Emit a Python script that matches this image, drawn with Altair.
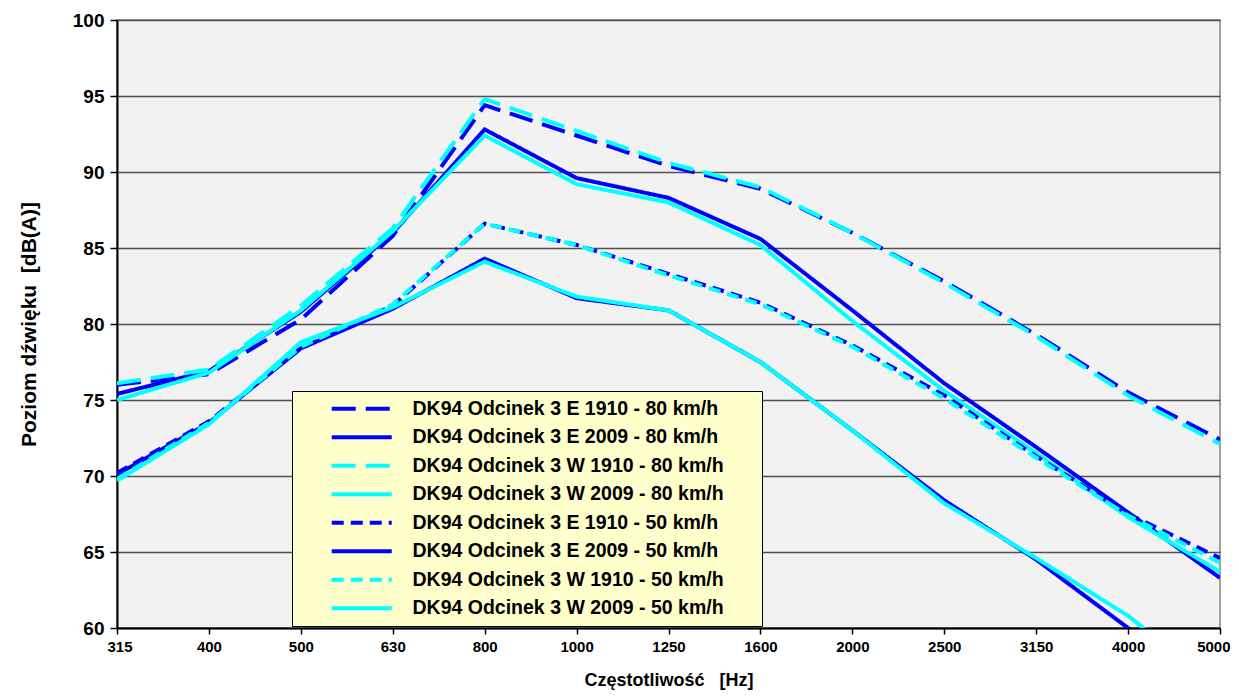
import altair as alt
import pandas as pd

freqs = ["315", "400", "500", "630", "800", "1000", "1250", "1600", "2000", "2500", "3150", "4000", "5000"]

series_names = [
    "DK94 Odcinek 3 E 1910 - 80 km/h",
    "DK94 Odcinek 3 E 2009 - 80 km/h",
    "DK94 Odcinek 3 W 1910 - 80 km/h",
    "DK94 Odcinek 3 W 2009 - 80 km/h",
    "DK94 Odcinek 3 E 1910 - 50 km/h",
    "DK94 Odcinek 3 E 2009 - 50 km/h",
    "DK94 Odcinek 3 W 1910 - 50 km/h",
    "DK94 Odcinek 3 W 2009 - 50 km/h",
]

e1910_80 = [76.0, 76.7, 80.3, 85.8, 94.4, 92.4, 90.4, 88.9, 86.0, 82.8, 79.3, 75.5, 72.4]
e2009_80 = [75.4, 76.9, 80.8, 86.0, 92.8, 89.6, 88.3, 85.6, 80.9, 76.1, 71.9, 67.6, 63.3]
w1910_80 = [76.1, 77.0, 81.2, 86.3, 94.8, 92.7, 90.6, 89.0, 86.0, 82.7, 79.2, 75.3, 72.1]
w2009_80 = [75.0, 76.8, 80.9, 86.1, 92.4, 89.2, 88.0, 85.2, 80.2, 75.6, 71.5, 67.3, 63.7]
e1910_50 = [70.2, 73.6, 78.4, 81.2, 86.6, 85.2, 83.3, 81.4, 78.6, 75.3, 71.3, 67.5, 64.6]
e2009_50 = [70.1, 73.5, 78.4, 81.0, 84.3, 81.7, 80.9, 77.5, 73.0, 68.4, 64.5, 60.0, 56.0]
w1910_50 = [69.8, 73.5, 78.5, 81.3, 86.6, 85.2, 83.2, 81.3, 78.5, 75.1, 71.2, 67.4, 64.3]
w2009_50 = [69.7, 73.4, 78.8, 81.1, 84.1, 81.8, 80.9, 77.5, 73.0, 68.2, 64.6, 60.8, 56.0]

all_values = [e1910_80, e2009_80, w1910_80, w2009_80, e1910_50, e2009_50, w1910_50, w2009_50]

colors = ["#0000ff", "#0000ff", "#00ffff", "#00ffff", "#0000ff", "#0000ff", "#00ffff", "#00ffff"]
dashes = [[24, 10], [1, 0], [24, 10], [1, 0], [12, 7], [1, 0], [12, 7], [1, 0]]
widths = [4, 4, 4, 4, 1.6, 1.6, 1.6, 1.6]

rows = []
for k, (name, vals) in enumerate(zip(series_names, all_values)):
    for i, (f, v) in enumerate(zip(freqs, vals)):
        rows.append({"series": name, "freq": f, "level": v, "idx": i, "k": k})
df = pd.DataFrame(rows)

FONT = "Liberation Sans"
BLANK_PAD = "\u2800" * 2

legend = alt.Legend(
    title=None,
    orient="none",
    legendX=175,
    legendY=371,
    symbolType="M-30,0H30",
    symbolSize=4,
    symbolStrokeWidth={"expr": "scale('strokeWidth', datum.value)"},
    labelFont=FONT,
    labelFontWeight="bold",
    labelFontSize=19.5,
    labelColor="#000000",
    labelLimit=800,
    labelOffset=41,
    symbolOffset=52,
    labelExpr="datum.label + '" + BLANK_PAD + "'",
    fillColor="#ffffcc",
    strokeColor="#000000",
    padding=8,
    rowPadding=7.5,
)

chart = (
    alt.Chart(df)
    .mark_line(clip=True)
    .encode(
        x=alt.X(
            "freq:O",
            sort=freqs,
            scale=alt.Scale(type="point", padding=0),
            axis=alt.Axis(
                title="Częstotliwość\u00a0\u00a0\u00a0[Hz]",
                labelAngle=0,
                grid=False,
                tickSize=6,
                tickColor="#000000",
                tickWidth=1.5,
                domainColor="#000000",
                domainWidth=2,
                labelFont=FONT,
                labelFontWeight="bold",
                labelFontSize=15,
                labelColor="#000000",
                labelPadding=5,
                labelFlush=True,
                labelFlushOffset=10,
                titleFont=FONT,
                titleFontWeight="bold",
                titleFontSize=18,
                titleColor="#000000",
                titlePadding=17,
            ),
        ),
        y=alt.Y(
            "level:Q",
            scale=alt.Scale(domain=[60, 100], nice=False, zero=False),
            axis=alt.Axis(
                title="Poziom dźwięku\u00a0\u00a0[dB(A)]",
                values=list(range(60, 101, 5)),
                grid=True,
                gridColor="#505050",
                gridWidth=1.3,
                tickSize=7,
                tickColor="#000000",
                tickWidth=1.5,
                domainColor="#000000",
                domainWidth=2,
                labelFont=FONT,
                labelFontWeight="bold",
                labelFontSize=19,
                labelColor="#000000",
                labelPadding=6,
                titleFont=FONT,
                titleFontWeight="bold",
                titleFontSize=21,
                titleColor="#000000",
                titlePadding=33,
            ),
        ),
        color=alt.Color("series:N", scale=alt.Scale(domain=series_names, range=colors), legend=legend),
        strokeDash=alt.StrokeDash("series:N", scale=alt.Scale(domain=series_names, range=dashes), legend=legend),
        strokeWidth=alt.StrokeWidth("series:N", scale=alt.Scale(domain=series_names, range=widths), legend=None),
        order=alt.Order("idx:Q"),
    )
    .properties(
        width=1103,
        height=608,
        padding={"left": 109, "top": 12, "right": 11, "bottom": 62},
        autosize=alt.AutoSizeParams(type="none"),
        background="#ffffff",
    )
    .configure_view(fill="#f2f2f2", stroke="#a0a0a0", strokeWidth=2)
)

chart.save("out.html", embed_options={"renderer": "svg", "actions": False})
